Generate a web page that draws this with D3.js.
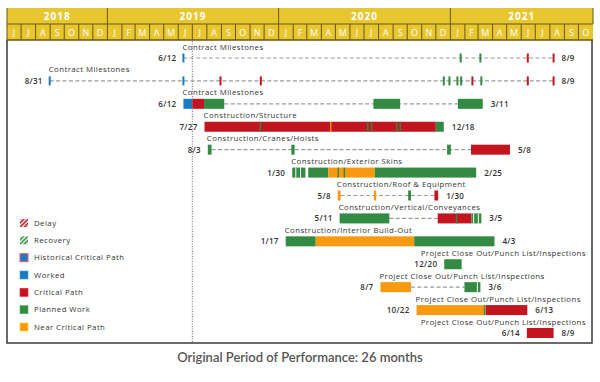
<!DOCTYPE html>
<html>
<head>
<meta charset="utf-8">
<script src="https://cdn.jsdelivr.net/npm/d3@7"></script>
<style>
  body { margin: 0; background: #fff; }
  svg text { font-family: "Open Sans", sans-serif; }
</style>
</head>
<body>
<div id="chart"></div>
<script>
// row titles and date labels
const rowTitles = [
    'Contract Milestones', 'Contract Milestones', 'Contract Milestones',
    'Construction/Structure', 'Construction/Cranes/Hoists', 'Construction/Exterior Skins',
    'Construction/Roof & Equipment', 'Construction/Vertical/Conveyances', 'Construction/Interior Build-Out',
    'Project Close Out/Punch List/Inspections', 'Project Close Out/Punch List/Inspections',
    'Project Close Out/Punch List/Inspections', 'Project Close Out/Punch List/Inspections'
];
const startLabels = ['6/12', '8/31', '6/12', '7/27', '8/3', '1/30', '5/8', '5/11', '1/17', '12/20', '8/7', '10/22', '6/14'];
const endLabels = ['8/9', '8/9', '3/11', '12/18', '5/8', '2/25', '1/30', '3/5', '4/3', '', '3/6', '6/13', '8/9'];

// [row, start, end, kind]
const blocks = [
    [2, '2019-06-12', '2019-07-01', 'worked'], [2, '2019-07-01', '2019-07-26', 'critical'], [2, '2019-07-26', '2019-09-07', 'planned'],
    [2, '2020-07-21', '2020-09-16', 'planned'], [2, '2021-01-17', '2021-03-11', 'planned'],
    [3, '2019-07-27', '2020-12-01', 'critical'], [3, '2020-12-01', '2020-12-18', 'planned'],
    [4, '2019-08-03', '2019-08-11', 'planned'], [4, '2020-01-28', '2020-02-04', 'planned'],
    [4, '2020-12-25', '2021-01-02', 'planned'], [4, '2021-02-14', '2021-05-08', 'critical'],
    [5, '2020-01-30', '2020-02-27', 'planned'], [5, '2020-03-04', '2020-04-16', 'planned'],
    [5, '2020-04-16', '2020-07-24', 'near'], [5, '2020-07-24', '2021-02-25', 'planned'],
    [6, '2020-05-06', '2020-05-12', 'near'], [6, '2020-07-22', '2020-07-27', 'near'],
    [6, '2020-10-03', '2020-10-09', 'planned'], [6, '2020-11-28', '2020-12-06', 'critical'],
    [7, '2020-05-10', '2020-08-24', 'planned'], [7, '2020-12-05', '2021-02-15', 'critical'], [7, '2021-02-15', '2021-03-08', 'planned'],
    [8, '2020-01-16', '2020-03-20', 'planned'], [8, '2020-03-20', '2020-10-16', 'near'], [8, '2020-10-16', '2021-04-05', 'planned'],
    [9, '2020-12-19', '2021-01-25', 'planned'],
    [10, '2020-08-05', '2020-10-09', 'near'], [10, '2021-01-31', '2021-03-06', 'planned'],
    [11, '2020-10-21', '2021-03-14', 'near'], [11, '2021-03-17', '2021-06-14', 'critical'],
    [12, '2021-06-13', '2021-08-09', 'critical']
];

// thin marks inside bars [row, date, kind]
const stripes = [
    [3, '2019-11-23', 'planned'], [3, '2020-04-21', 'near'], [3, '2020-07-09', 'planned'],
    [3, '2020-07-17', 'planned'], [3, '2020-09-09', 'planned'], [3, '2020-09-16', 'planned'],
    [5, '2020-02-07', 'white'], [5, '2020-02-17', 'white'], [5, '2020-05-07', 'planned'], [5, '2020-05-20', 'planned'],
    [7, '2021-01-14', 'planned'], [7, '2021-02-20', 'white'], [7, '2021-03-02', 'white'],
    [10, '2021-02-28', 'white'],
    [11, '2021-03-15', 'planned']
];

// milestone ticks [row, date, kind]
const ticks = [
    [0, '2019-06-12', 'worked'], [0, '2021-01-23', 'planned'], [0, '2021-03-06', 'planned'],
    [0, '2021-06-15', 'critical'], [0, '2021-08-09', 'critical'],
    [1, '2018-08-31', 'worked'], [1, '2019-06-12', 'worked'], [1, '2019-08-30', 'critical'], [1, '2019-11-24', 'critical'],
    [1, '2020-12-18', 'planned'], [1, '2020-12-30', 'planned'], [1, '2021-01-16', 'planned'], [1, '2021-01-24', 'planned'],
    [1, '2021-02-17', 'critical'], [1, '2021-03-08', 'planned'], [1, '2021-06-15', 'critical'], [1, '2021-08-09', 'critical']
];

// dashed connectors [row, start, end]
const dashes = [
    [0, '2019-06-12', '2021-08-09'], [1, '2018-08-31', '2021-08-09'], [2, '2019-09-07', '2021-01-17'],
    [4, '2019-08-11', '2021-02-14'], [6, '2020-05-12', '2020-11-28'], [7, '2020-08-24', '2020-12-05'],
    [10, '2020-10-09', '2021-01-31']
];

const legendItems = ['Delay', 'Recovery', 'Historical Critical Path', 'Worked', 'Critical Path', 'Planned Work', 'Near Critical Path'];
const legendKinds = ['delay', 'recovery', 'historical', 'worked', 'critical', 'planned', 'near'];

const colors = {
    worked: '#1f7bc1', critical: '#c2151f', planned: '#338a42', near: '#f79a10', white: '#ffffff'
};

const width = 600, height = 382;
const parse = d3.timeParse('%Y-%m-%d');

const svg = d3.select('#chart').append('svg')
    .attr('width', width)
    .attr('height', height);

const x = d3.scaleTime()
    .domain([new Date(2018, 5, 1), new Date(2021, 10, 1)])
    .range([7, 593]);

const y = d3.scalePoint()
    .domain(d3.range(rowTitles.length))
    .range([58, 333]);

const barH = 10;

// header
const gold = '#e8c62f', edge = '#6b5716';
const months = d3.timeMonths(new Date(2018, 5, 1), new Date(2021, 10, 1));
const years = [2018, 2019, 2020, 2021];

svg.append('rect').attr('x', 7).attr('y', 8).attr('width', 586).attr('height', 32).attr('fill', gold);

years.forEach(function (yr) {
    const x0 = x(d3.max([new Date(yr, 0, 1), x.domain()[0]]));
    const x1 = x(d3.min([new Date(yr + 1, 0, 1), x.domain()[1]]));
    svg.append('text')
        .attr('x', (x0 + x1) / 2).attr('y', 20)
        .attr('text-anchor', 'middle')
        .attr('fill', '#fff').attr('font-size', 10).attr('font-weight', 700)
        .attr('letter-spacing', 1)
        .text(yr);
    svg.append('line').attr('x1', x0).attr('x2', x0).attr('y1', 8).attr('y2', 24)
        .attr('stroke', edge).attr('stroke-width', 1);
});

months.forEach(function (m) {
    const x0 = x(m), x1 = x(d3.timeMonth.offset(m, 1));
    svg.append('line').attr('x1', x0).attr('x2', x0).attr('y1', 24).attr('y2', 40)
        .attr('stroke', edge).attr('stroke-width', 1);
    svg.append('text')
        .attr('x', (x0 + x1) / 2).attr('y', 35.5)
        .attr('text-anchor', 'middle')
        .attr('fill', '#fff').attr('font-size', 9)
        .text(d3.timeFormat('%B')(m)[0]);
});

svg.append('line').attr('x1', 7).attr('x2', 593).attr('y1', 24).attr('y2', 24).attr('stroke', edge);
svg.append('line').attr('x1', 7).attr('x2', 593).attr('y1', 40).attr('y2', 40).attr('stroke', edge).attr('stroke-width', 1.5);
svg.append('line').attr('x1', 593).attr('x2', 593).attr('y1', 8).attr('y2', 24).attr('stroke', edge);

// frame
svg.append('path')
    .attr('d', 'M7,40 V343 H592 V40')
    .attr('fill', 'none')
    .attr('stroke', '#3a3a3a')
    .attr('stroke-width', 1.5);

// data date line
svg.append('line')
    .attr('x1', x(parse('2019-07-01'))).attr('x2', x(parse('2019-07-01')))
    .attr('y1', 41).attr('y2', 342)
    .attr('stroke', '#666').attr('stroke-width', 1).attr('stroke-dasharray', '1,1.5');

// dashed connectors
svg.selectAll('.dash').data(dashes).enter().append('line')
    .attr('x1', d => x(parse(d[1]))).attr('x2', d => x(parse(d[2])))
    .attr('y1', d => y(d[0])).attr('y2', d => y(d[0]))
    .attr('stroke', '#9a9a9a').attr('stroke-width', 1.2).attr('stroke-dasharray', '4,2.4');

// blocks
svg.selectAll('.block').data(blocks).enter().append('rect')
    .attr('x', d => x(parse(d[1])))
    .attr('y', d => y(d[0]) - barH / 2)
    .attr('width', d => x(parse(d[2])) - x(parse(d[1])))
    .attr('height', barH)
    .attr('fill', d => colors[d[3]]);

// stripes inside bars
svg.selectAll('.stripe').data(stripes).enter().append('rect')
    .attr('x', d => x(parse(d[1])) - 0.7)
    .attr('y', d => y(d[0]) - barH / 2)
    .attr('width', d => d[2] === 'white' ? 1 : 1.4)
    .attr('height', barH)
    .attr('fill', d => colors[d[2]]);

// milestone ticks
svg.selectAll('.tick').data(ticks).enter().append('rect')
    .attr('x', d => x(parse(d[1])) - 1)
    .attr('y', d => y(d[0]) - 4.5)
    .attr('width', 2)
    .attr('height', 9)
    .attr('fill', d => colors[d[2]]);

// row extents
const rowStart = [], rowEnd = [];
rowTitles.forEach(function (t, i) {
    const xs = [];
    blocks.filter(b => b[0] === i).forEach(b => { xs.push(x(parse(b[1]))); xs.push(x(parse(b[2]))); });
    ticks.filter(b => b[0] === i).forEach(b => xs.push(x(parse(b[1]))));
    dashes.filter(b => b[0] === i).forEach(b => { xs.push(x(parse(b[1]))); xs.push(x(parse(b[2]))); });
    rowStart.push(d3.min(xs));
    rowEnd.push(d3.max(xs));
});

// labels
rowTitles.forEach(function (t, i) {
    const title = svg.append('text')
        .attr('y', y(i) - 8.5)
        .attr('fill', '#333').attr('font-size', 7.8).attr('font-weight', 500)
        .attr('letter-spacing', 0.45)
        .text(t);
    const len = title.node().getComputedTextLength();
    title.attr('x', Math.min(rowStart[i] - 1, 586 - len));

    svg.append('text')
        .attr('x', rowStart[i] - 7).attr('y', y(i) + 3)
        .attr('text-anchor', 'end')
        .attr('fill', '#333').attr('font-size', 8).attr('font-weight', 600)
        .attr('letter-spacing', 0.3)
        .text(startLabels[i]);

    svg.append('text')
        .attr('x', rowEnd[i] + 8).attr('y', y(i) + 3)
        .attr('fill', '#333').attr('font-size', 8).attr('font-weight', 600)
        .attr('letter-spacing', 0.3)
        .text(endLabels[i]);
});

// legend
const legendY = d3.scalePoint().domain(d3.range(legendItems.length)).range([223, 327]);
const defs = svg.append('defs');
[['delay', colors.critical], ['recovery', colors.planned]].forEach(function (p) {
    const pat = defs.append('pattern')
        .attr('id', 'hatch-' + p[0])
        .attr('patternUnits', 'userSpaceOnUse')
        .attr('width', 3).attr('height', 3)
        .attr('patternTransform', 'rotate(45)');
    pat.append('rect').attr('width', 1.6).attr('height', 3).attr('fill', p[1]);
});

legendItems.forEach(function (item, i) {
    const k = legendKinds[i];
    const ly = legendY(i);
    const sq = svg.append('rect')
        .attr('x', 20).attr('y', ly - 4).attr('width', 8).attr('height', 8);
    if (k === 'delay' || k === 'recovery') {
        sq.attr('fill', 'url(#hatch-' + k + ')');
    } else if (k === 'historical') {
        sq.attr('fill', colors.worked).attr('stroke', '#e0606a').attr('stroke-width', 1);
    } else {
        sq.attr('fill', colors[k]).attr('stroke', d3.color(colors[k]).brighter(0.8)).attr('stroke-width', 0.6);
    }
    svg.append('text')
        .attr('x', 34).attr('y', ly + 2.8)
        .attr('fill', '#333').attr('font-size', 7.8).attr('font-weight', 500)
        .attr('letter-spacing', 0.45)
        .text(item);
});

// caption
svg.append('text')
    .attr('x', 300).attr('y', 362)
    .attr('text-anchor', 'middle')
    .attr('fill', '#555')
    .style('font-family', 'Lato, sans-serif')
    .attr('font-size', 13).attr('font-weight', 600)
    .text('Original Period of Performance: 26 months');
</script>
</body>
</html>
